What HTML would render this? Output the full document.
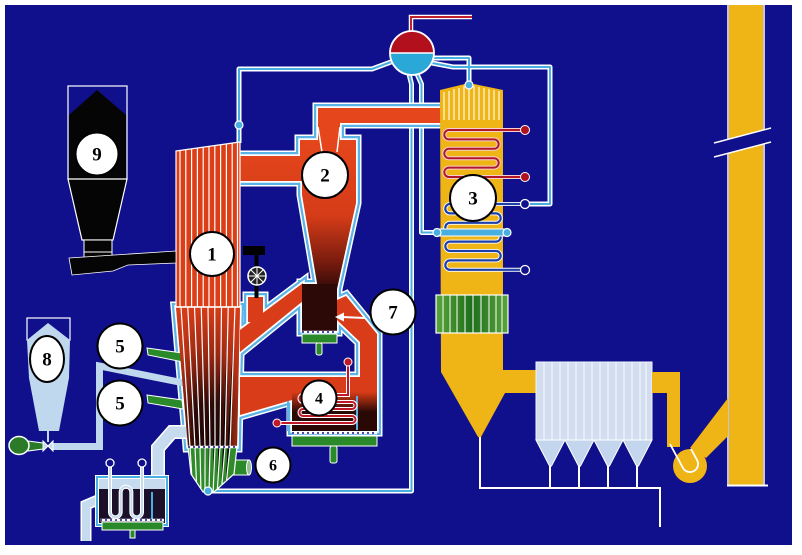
<!DOCTYPE html>
<html><head><meta charset="utf-8">
<style>
html,body{margin:0;padding:0;background:#fff;}
svg{display:block}
.l{font-family:"Liberation Serif","DejaVu Serif",serif;font-weight:bold;font-size:19px;text-anchor:middle;fill:#000}
.s{font-size:16px}
</style></head><body>
<svg width="802" height="555" viewBox="0 0 802 555" xmlns="http://www.w3.org/2000/svg" xmlns:xlink="http://www.w3.org/1999/xlink">
<defs>
<linearGradient id="gCyc" gradientUnits="userSpaceOnUse" x1="0" y1="140" x2="0" y2="292">
<stop offset="0" stop-color="#e5461c"/><stop offset="0.5" stop-color="#d53c18"/><stop offset="0.8" stop-color="#7a1c0e"/><stop offset="1" stop-color="#2a0806"/>
</linearGradient>
<linearGradient id="gFur" gradientUnits="userSpaceOnUse" x1="0" y1="305" x2="0" y2="447">
<stop offset="0" stop-color="#d93d18"/><stop offset="0.35" stop-color="#9a2812"/><stop offset="0.7" stop-color="#2e0907"/><stop offset="1" stop-color="#220604"/>
</linearGradient>
<linearGradient id="gFurH" x1="0" y1="0" x2="1" y2="0">
<stop offset="0" stop-color="#d83c18" stop-opacity="0.75"/><stop offset="0.3" stop-color="#d83c18" stop-opacity="0"/><stop offset="0.7" stop-color="#d83c18" stop-opacity="0"/><stop offset="1" stop-color="#d83c18" stop-opacity="0.75"/>
</linearGradient>
<linearGradient id="gDark" gradientUnits="userSpaceOnUse" x1="0" y1="392" x2="0" y2="412">
<stop offset="0" stop-color="#2a0806" stop-opacity="0"/><stop offset="1" stop-color="#2a0806" stop-opacity="1"/>
</linearGradient>
<linearGradient id="gAH" x1="0" y1="0" x2="1" y2="0">
<stop offset="0" stop-color="#5aa53a"/><stop offset="0.5" stop-color="#1f6e1c"/><stop offset="1" stop-color="#5aa53a"/>
</linearGradient>
<g id="pipes">
<path d="M391,62 L372,69 H239 V143"/>
<path d="M433,58 H469 V84"/>
<path d="M432,63 L453,67 H550 V204 H529"/>
<path d="M409,74 L411.5,84 V491 H208"/>
<path d="M417,74 L421.5,84 V232.5 H437"/>
</g>
<g id="red">
<path d="M240,156 H300 V140 H318 V108 H441 V123 H340 V140 H356 V203 L337,289 H318 L302,195 V181 H240 Z"/>
<path d="M303,283 L303,301 L240,352 L240,330 Z"/>
<path d="M248,297 H263 V322 H248 Z"/>
<path d="M337,300 L346,296 L377,334 V431 H292 V400 L240,415 V377 H360 V342 L337,320 Z"/>
<path d="M302,284 H337 V331 H302 Z"/>
<path d="M176,307 H240 L237,447 H188 Z"/>
</g>
<clipPath id="cU"><path d="M176,151 L240,142 V307 H176 Z"/></clipPath>
<clipPath id="cL"><path d="M176,307 H240 L237,447 L234,474 L214,492 H203 L191,474 L188,447 Z"/></clipPath>
</defs>

<rect width="802" height="555" fill="#fff"/>
<rect x="5" y="5" width="787" height="540" fill="#10108c"/>

<!-- STACK -->
<rect x="729" y="5" width="34" height="480" fill="#efb415"/>
<line x1="728" y1="5" x2="728" y2="485" stroke="#fff" stroke-width="1.5"/>
<line x1="764" y1="5" x2="764" y2="485" stroke="#fff" stroke-width="1.5"/>
<line x1="727" y1="485.5" x2="768" y2="485.5" stroke="#fff" stroke-width="2"/>
<polygon points="714,143 771,128 771,142 714,157" fill="#10108c"/>
<line x1="714" y1="143" x2="771" y2="128" stroke="#fff" stroke-width="1.5"/>
<line x1="714" y1="157" x2="771" y2="142" stroke="#fff" stroke-width="1.5"/>

<!-- water/steam pipes -->
<use xlink:href="#pipes" fill="none" stroke="#fff" stroke-width="5" stroke-linejoin="round"/>
<use xlink:href="#pipes" fill="none" stroke="#49aee0" stroke-width="2" stroke-linejoin="round"/>
<circle cx="239" cy="125" r="4" fill="#49aee0" stroke="#fff" stroke-width="1.2"/>

<!-- drum -->
<path d="M411,31 V17 H472" fill="none" stroke="#fff" stroke-width="4.5"/>
<path d="M411,31 V17 H472" fill="none" stroke="#c02030" stroke-width="2"/>
<path d="M390,53 A22,22 0 0 1 434,53 Z" fill="#b3101e"/>
<path d="M390,53 A22,22 0 0 0 434,53 Z" fill="#2aa8d8"/>
<line x1="390" y1="53" x2="434" y2="53" stroke="#fff" stroke-width="1.5"/>
<circle cx="412" cy="53" r="22" fill="none" stroke="#fff" stroke-width="1.8"/>

<!-- outlines of red ducts -->
<use xlink:href="#red" fill="none" stroke="#fff" stroke-width="11"/>
<use xlink:href="#red" fill="none" stroke="#5cb4e6" stroke-width="8"/>
<use xlink:href="#red" fill="none" stroke="#fff" stroke-width="3.5"/>

<!-- pale air pipe, silo 8 -->
<path d="M52,446.5 H99.5 V366 L184,383" fill="none" stroke="#c0d8ee" stroke-width="7"/>
<rect x="27" y="318" width="43" height="22" fill="none" stroke="#fff" stroke-width="1.2"/>
<polygon points="27,340 48,323 70,340 69,378 59,431 39,431 29,378" fill="#c0d8ee"/>
<line x1="48" y1="430" x2="48" y2="442" stroke="#c0d8ee" stroke-width="2"/>
<path d="M28,441 L43,443 V449 L28,451 Z" fill="#2a7a2a" stroke="#fff" stroke-width="1"/>
<ellipse cx="19" cy="445.5" rx="10" ry="9" fill="#2a7a2a" stroke="#fff" stroke-width="1.5"/>
<polygon points="43,441 53,451 53,441 43,451" fill="#c6dbee" stroke="#fff" stroke-width="1"/>

<!-- secondary air nozzles -->
<polygon points="147,348 182,353 183,362 148,355" fill="#2a8a2a" stroke="#fff" stroke-width="1"/>
<polygon points="147,395 182,400 183,409 148,403" fill="#2a8a2a" stroke="#fff" stroke-width="1"/>

<!-- bottom ash pipe & external HX -->
<path d="M187,432 H172 L158,448 V479" fill="none" stroke="#fff" stroke-width="14"/>
<path d="M187,432 H172 L158,448 V479" fill="none" stroke="#c6dbee" stroke-width="11"/>
<path d="M100,499 L86,505 V541" fill="none" stroke="#fff" stroke-width="11"/>
<path d="M100,499 L86,505 V541" fill="none" stroke="#c6dbee" stroke-width="8"/>
<rect x="97" y="477" width="70" height="48" fill="#1c0f2a" stroke="#fff" stroke-width="4"/>
<rect x="97" y="477" width="70" height="48" fill="none" stroke="#49aee0" stroke-width="2"/>
<rect x="99" y="479" width="66" height="10" fill="#c6dbee"/>
<line x1="152" y1="492" x2="152" y2="519" stroke="#49aee0" stroke-width="2"/>
<line x1="100" y1="520" x2="164" y2="520" stroke="#fff" stroke-width="2.5"/>
<line x1="100" y1="520" x2="164" y2="520" stroke="#10108c" stroke-width="1.5" stroke-dasharray="2,3"/>
<rect x="102" y="522" width="61" height="8" fill="#2a8a2a" stroke="#fff" stroke-width="1"/>
<rect x="130" y="530" width="5" height="8" fill="#2a8a2a" stroke="#fff" stroke-width="1"/>
<path d="M110,467 V512 a5.33,5.33 0 0 0 10.67,0 V492 a5.33,5.33 0 0 1 10.67,0 V512 a5.33,5.33 0 0 0 10.67,0 V467" fill="none" stroke="#fff" stroke-width="4"/>
<path d="M110,467 V512 a5.33,5.33 0 0 0 10.67,0 V492 a5.33,5.33 0 0 1 10.67,0 V512 a5.33,5.33 0 0 0 10.67,0 V467" fill="none" stroke="#c6dbee" stroke-width="2"/>
<circle cx="110" cy="463" r="4" fill="#10108c" stroke="#fff" stroke-width="1.3"/>
<circle cx="142" cy="463" r="4" fill="#10108c" stroke="#fff" stroke-width="1.3"/>

<!-- green pipe near 6 -->
<rect x="229" y="460" width="20" height="15" fill="#2a8a2a" stroke="#fff" stroke-width="1"/>
<ellipse cx="249" cy="467.5" rx="2.5" ry="7.5" fill="#8fc08f" stroke="#fff" stroke-width="1"/>

<!-- red fills -->
<path d="M240,156 H300 V140 H318 V108 H441 V123 H340 V140 H356 V203 L337,289 H318 L302,195 V181 H240 Z" fill="url(#gCyc)"/>
<path d="M303,283 L303,301 L240,352 L240,330 Z" fill="#d83c18"/>
<path d="M248,297 H263 V322 H248 Z" fill="#d83c18"/>
<path d="M337,300 L346,296 L377,334 V431 H292 V400 L240,415 V377 H360 V342 L337,320 Z" fill="#d83c18"/>
<rect x="292" y="392" width="85" height="39" fill="url(#gDark)"/>
<path d="M302,284 H337 V331 H302 Z" fill="#2c0907"/>
<path d="M176,307 H240 L237,447 H188 Z" fill="url(#gFur)"/>
<path d="M176,307 H240 L237,447 H188 Z" fill="url(#gFurH)"/>
<line x1="318" y1="127" x2="322" y2="152" stroke="#fff" stroke-width="1.5"/>
<line x1="340" y1="127" x2="337" y2="152" stroke="#fff" stroke-width="1.5"/>
<line x1="288" y1="401" x2="288" y2="431" stroke="#5cb4e6" stroke-width="2"/>
<line x1="357" y1="396" x2="357" y2="430" stroke="#5cb4e6" stroke-width="2"/>

<!-- loop seal plenum -->
<line x1="302" y1="332" x2="337" y2="332" stroke="#fff" stroke-width="2.5"/>
<line x1="302" y1="332" x2="337" y2="332" stroke="#10108c" stroke-width="1.5" stroke-dasharray="2,3"/>
<rect x="302" y="334" width="35" height="9" fill="#2a8a2a" stroke="#fff" stroke-width="1"/>
<rect x="316" y="343" width="6" height="12" rx="2" fill="#2a8a2a" stroke="#fff" stroke-width="1"/>

<!-- FBHE plenum -->
<line x1="292" y1="433" x2="377" y2="433" stroke="#fff" stroke-width="2.5"/>
<line x1="292" y1="433" x2="377" y2="433" stroke="#10108c" stroke-width="1.5" stroke-dasharray="2,3"/>
<rect x="292" y="436" width="85" height="10" fill="#2a8a2a" stroke="#fff" stroke-width="1"/>
<rect x="330" y="446" width="7" height="17" rx="2" fill="#2a8a2a" stroke="#fff" stroke-width="1"/>

<!-- FBHE coil -->
<path d="M348,362 V395 H303 a3.5,3.5 0 0 0 0,7 H352 a3.5,3.5 0 0 1 0,7 H303 a3.5,3.5 0 0 0 0,7 H352 a3.5,3.5 0 0 1 0,7 H277" fill="none" stroke="#fff" stroke-width="4"/>
<path d="M348,362 V395 H303 a3.5,3.5 0 0 0 0,7 H352 a3.5,3.5 0 0 1 0,7 H303 a3.5,3.5 0 0 0 0,7 H352 a3.5,3.5 0 0 1 0,7 H277" fill="none" stroke="#c01828" stroke-width="2"/>
<circle cx="348" cy="362" r="4" fill="#c01828" stroke="#fff" stroke-width="1"/>
<circle cx="277" cy="423" r="4" fill="#c01828" stroke="#fff" stroke-width="1"/>

<!-- arrow 7 -->
<line x1="365" y1="318" x2="342" y2="317" stroke="#fff" stroke-width="2"/>
<polygon points="335,317 344,312.5 344,321.5" fill="#fff"/>

<!-- furnace upper -->
<path d="M176,151 L240,142 V307 H176 Z" fill="#dc3e18" stroke="#fff" stroke-width="1.2"/>
<g clip-path="url(#cU)" stroke="#fff" stroke-width="1.2">
<line x1="180" y1="130" x2="180" y2="307"/><line x1="185.8" y1="130" x2="185.8" y2="307"/>
<line x1="191.6" y1="130" x2="191.6" y2="307"/><line x1="197.4" y1="130" x2="197.4" y2="307"/>
<line x1="203.2" y1="130" x2="203.2" y2="307"/><line x1="209" y1="130" x2="209" y2="307"/>
<line x1="214.8" y1="130" x2="214.8" y2="307"/><line x1="220.6" y1="130" x2="220.6" y2="307"/>
<line x1="226.4" y1="130" x2="226.4" y2="307"/><line x1="232.2" y1="130" x2="232.2" y2="307"/>
<line x1="237.5" y1="130" x2="237.5" y2="307"/>
</g>
<line x1="176" y1="307" x2="240" y2="307" stroke="#fff" stroke-width="1.5"/>

<!-- furnace bottom green -->
<path d="M188,447 H237 L234,474 L214,492 H203 L191,474 Z" fill="#2f8a2a" stroke="#fff" stroke-width="1.2"/>
<g clip-path="url(#cL)" stroke="#fff" stroke-width="1.2">
<path d="M181,307 L190,447 L193,495"/><path d="M187.75,307 L195,447 L197,495"/>
<path d="M194.5,307 L200,447 L201,495"/><path d="M201.25,307 L205,447 L205,495"/>
<path d="M208,307 L210,447 L209,495"/><path d="M214.75,307 L215,447 L213,495"/>
<path d="M221.5,307 L220,447 L217,495"/><path d="M228.25,307 L225,447 L221,495"/>
<path d="M235,307 L230,447 L225,495"/>
</g>
<line x1="188" y1="447" x2="237" y2="447" stroke="#fff" stroke-width="2.5"/>
<line x1="188" y1="447" x2="237" y2="447" stroke="#10108c" stroke-width="1.5" stroke-dasharray="2,3"/>
<circle cx="208" cy="491" r="4" fill="#49aee0" stroke="#fff" stroke-width="1.2"/>

<!-- valve on furnace -->
<rect x="243" y="246" width="22" height="9" fill="#000"/>
<rect x="254.5" y="255" width="4" height="13" fill="#000"/>
<rect x="254.5" y="284" width="4" height="14" fill="#000"/>
<circle cx="257" cy="276" r="9" fill="#222" stroke="#fff" stroke-width="1.5"/>
<g stroke="#fff" stroke-width="1"><line x1="248" y1="276" x2="266" y2="276"/><line x1="257" y1="267" x2="257" y2="285"/><line x1="250.6" y1="269.6" x2="263.4" y2="282.4"/><line x1="263.4" y1="269.6" x2="250.6" y2="282.4"/></g>

<!-- silo 9 -->
<rect x="68" y="86" width="59" height="93" fill="none" stroke="#fff" stroke-width="1.2"/>
<polygon points="69,115 97,90 126,115 126,179 69,179" fill="#050505"/>
<polygon points="68,179 127,179 113,240 82,240" fill="#050505" stroke="#fff" stroke-width="1.2"/>
<rect x="84" y="240" width="28" height="18" fill="#050505" stroke="#fff" stroke-width="1"/>
<line x1="84" y1="252" x2="112" y2="252" stroke="#fff" stroke-width="1"/>
<polygon points="69,258 176,251 176,263 128,265 113,271 72,275" fill="#050505" stroke="#fff" stroke-width="0.8"/>

<!-- BACKPASS -->
<polygon points="440,90 469,83 503,90 503,370 536,370 536,393 505,393 481,437 478,437 441,372" fill="#efb415"/>
<g stroke="#fff" stroke-width="1.1">
<line x1="444" y1="92" x2="444" y2="120"/><line x1="449" y1="91" x2="449" y2="120"/><line x1="454" y1="89" x2="454" y2="120"/>
<line x1="459" y1="88" x2="459" y2="120"/><line x1="464" y1="86" x2="464" y2="120"/><line x1="469" y1="86" x2="469" y2="120"/>
<line x1="474" y1="86" x2="474" y2="120"/><line x1="479" y1="87" x2="479" y2="120"/><line x1="484" y1="88" x2="484" y2="120"/>
<line x1="489" y1="89" x2="489" y2="120"/><line x1="494" y1="90" x2="494" y2="120"/><line x1="499" y1="91" x2="499" y2="120"/>
</g>
<circle cx="469" cy="85" r="4" fill="#49aee0" stroke="#fff" stroke-width="1.2"/>

<!-- superheater coil -->
<path d="M525,130 H449 a4.7,4.7 0 0 0 0,9.4 H494 a4.7,4.7 0 0 1 0,9.4 H449 a4.7,4.7 0 0 0 0,9.4 H494 a4.7,4.7 0 0 1 0,9.4 H449 a4.7,4.7 0 0 0 0,9.4 H525" fill="none" stroke="#f6d0d0" stroke-width="4"/>
<path d="M525,130 H449 a4.7,4.7 0 0 0 0,9.4 H494 a4.7,4.7 0 0 1 0,9.4 H449 a4.7,4.7 0 0 0 0,9.4 H494 a4.7,4.7 0 0 1 0,9.4 H449 a4.7,4.7 0 0 0 0,9.4 H525" fill="none" stroke="#b01828" stroke-width="2"/>
<circle cx="525" cy="130" r="4.5" fill="#b01020" stroke="#fff" stroke-width="1"/>
<circle cx="525" cy="177" r="4.5" fill="#b01020" stroke="#fff" stroke-width="1"/>

<!-- economizer coil -->
<path d="M525,204 H450 a4.7,4.7 0 0 0 0,9.4 H496 a4.7,4.7 0 0 1 0,9.4 H450 a4.7,4.7 0 0 0 0,9.4 H496 a4.7,4.7 0 0 1 0,9.4 H450 a4.7,4.7 0 0 0 0,9.4 H496 a4.7,4.7 0 0 1 0,9.4 H450 a4.7,4.7 0 0 0 0,9.4 H525" fill="none" stroke="#fff" stroke-width="4"/>
<path d="M525,204 H450 a4.7,4.7 0 0 0 0,9.4 H496 a4.7,4.7 0 0 1 0,9.4 H450 a4.7,4.7 0 0 0 0,9.4 H496 a4.7,4.7 0 0 1 0,9.4 H450 a4.7,4.7 0 0 0 0,9.4 H496 a4.7,4.7 0 0 1 0,9.4 H450 a4.7,4.7 0 0 0 0,9.4 H525" fill="none" stroke="#1c3fa8" stroke-width="2.2"/>
<rect x="437" y="229" width="70" height="7" fill="#49aee0" stroke="#fff" stroke-width="1"/>
<circle cx="437" cy="232.5" r="4" fill="#49aee0" stroke="#fff" stroke-width="1.2"/>
<circle cx="507" cy="232.5" r="4" fill="#49aee0" stroke="#fff" stroke-width="1.2"/>
<circle cx="525" cy="204" r="4.5" fill="#10108c" stroke="#fff" stroke-width="1.3"/>
<circle cx="525" cy="270" r="4.5" fill="#10108c" stroke="#fff" stroke-width="1.3"/>

<!-- air heater -->
<rect x="436" y="295" width="72" height="38" fill="url(#gAH)" stroke="#fff" stroke-width="1.2"/>
<g stroke="#fff" stroke-width="1">
<line x1="443" y1="295" x2="443" y2="333"/><line x1="450" y1="295" x2="450" y2="333"/><line x1="457" y1="295" x2="457" y2="333"/>
<line x1="465" y1="295" x2="465" y2="333"/><line x1="473" y1="295" x2="473" y2="333"/><line x1="481" y1="295" x2="481" y2="333"/>
<line x1="489" y1="295" x2="489" y2="333"/><line x1="496" y1="295" x2="496" y2="333"/><line x1="502" y1="295" x2="502" y2="333"/>
</g>

<!-- ash line -->
<path d="M480,437 V488 H660 V527" fill="none" stroke="#fff" stroke-width="2"/>
<g stroke="#fff" stroke-width="2"><line x1="550" y1="465" x2="550" y2="488"/><line x1="579" y1="465" x2="579" y2="488"/><line x1="608" y1="465" x2="608" y2="488"/><line x1="637" y1="465" x2="637" y2="488"/></g>

<!-- electrofilter -->
<rect x="536" y="362" width="116" height="78" fill="#d2deef" stroke="#eef4fb" stroke-width="1"/>
<g stroke="#fff" stroke-width="1" opacity="0.85">
<line x1="544" y1="362" x2="544" y2="440"/><line x1="552" y1="362" x2="552" y2="440"/><line x1="560" y1="362" x2="560" y2="440"/>
<line x1="568" y1="362" x2="568" y2="440"/><line x1="576" y1="362" x2="576" y2="440"/><line x1="584" y1="362" x2="584" y2="440"/>
<line x1="592" y1="362" x2="592" y2="440"/><line x1="600" y1="362" x2="600" y2="440"/><line x1="608" y1="362" x2="608" y2="440"/>
<line x1="616" y1="362" x2="616" y2="440"/><line x1="624" y1="362" x2="624" y2="440"/><line x1="632" y1="362" x2="632" y2="440"/>
<line x1="640" y1="362" x2="640" y2="440"/><line x1="646" y1="362" x2="646" y2="440"/>
</g>
<g fill="#c4d6ee" stroke="#fff" stroke-width="1">
<polygon points="536,440 565,440 551.5,466 549.5,466"/>
<polygon points="565,440 594,440 580.5,466 578.5,466"/>
<polygon points="594,440 623,440 609.5,466 607.5,466"/>
<polygon points="623,440 652,440 638.5,466 636.5,466"/>
</g>

<!-- ID fan -->
<path d="M652,372 H680 V447 H667 V393 H652 Z" fill="#efb415"/>
<polygon points="690,448 728,398 728,436 706,458" fill="#efb415"/>
<circle cx="690" cy="466" r="17" fill="#efb415"/>
<path d="M670,444 L683,468 A8,8 0 0 0 697,460 L691,449" fill="none" stroke="#fff" stroke-width="1.8"/>

<!-- labels -->
<circle cx="212" cy="254" r="22" fill="#fff" stroke="#000" stroke-width="2"/><text class="l" x="212" y="260.5">1</text>
<circle cx="325" cy="175" r="23" fill="#fff" stroke="#000" stroke-width="2"/><text class="l" x="325" y="181.5">2</text>
<circle cx="473" cy="198" r="23" fill="#fff" stroke="#000" stroke-width="2"/><text class="l" x="473" y="204.5">3</text>
<circle cx="319" cy="398" r="17.5" fill="#fff" stroke="#000" stroke-width="2"/><text class="l s" x="319" y="403.5">4</text>
<circle cx="120" cy="346" r="22.5" fill="#fff" stroke="#000" stroke-width="2"/><text class="l" x="120" y="352.5">5</text>
<circle cx="120" cy="403" r="22.5" fill="#fff" stroke="#000" stroke-width="2"/><text class="l" x="120" y="409.5">5</text>
<circle cx="273" cy="465" r="17.5" fill="#fff" stroke="#000" stroke-width="2"/><text class="l s" x="273" y="470.5">6</text>
<circle cx="393" cy="312" r="22.5" fill="#fff" stroke="#000" stroke-width="2"/><text class="l" x="393" y="318.5">7</text>
<ellipse cx="47" cy="359" rx="17" ry="23" fill="#fff" stroke="#000" stroke-width="2"/><text class="l" x="47" y="365.5">8</text>
<circle cx="97" cy="154" r="21.5" fill="#fff" stroke="#000" stroke-width="2"/><text class="l" x="97" y="160.5">9</text>
</svg>
</body></html>
